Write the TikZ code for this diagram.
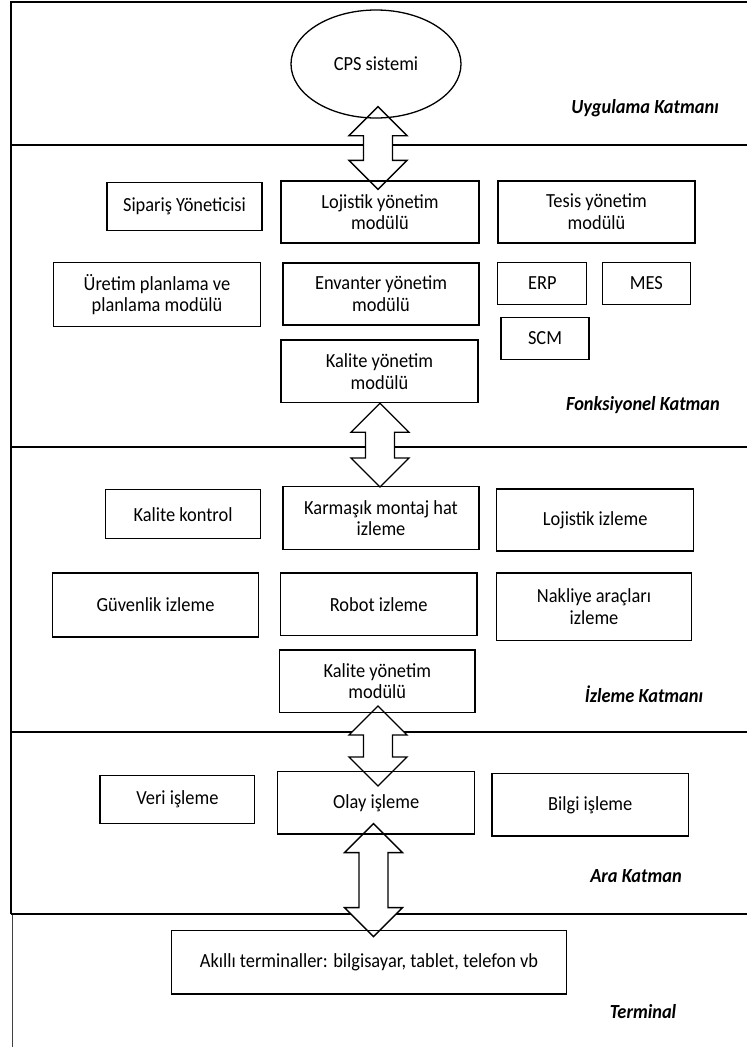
\documentclass[tikz,border=0pt]{standalone}
\usepackage{fontspec}
\setmainfont{Carlito}[FakeStretch=0.92]
\usetikzlibrary{calc,shapes.geometric,backgrounds}

\newcommand{\boxfont}{\fontsize{20}{21.7}\selectfont}
% fat double arrow, tips at #1 (top) and #2 (bottom)
\newcommand{\fatarrow}[2]{%
 \draw[fatarr] let \p1=(#1), \p2=(#2) in
 (\x1,\y1) -- (\x1+29pt,\y1-29pt) -- (\x1+14.5pt,\y1-29pt)
 -- (\x1+14.5pt,\y2+29pt) -- (\x1+29pt,\y2+29pt) -- (\x1,\y2)
 -- (\x1-29pt,\y2+29pt) -- (\x1-14.5pt,\y2+29pt) -- (\x1-14.5pt,\y1-29pt)
 -- (\x1-29pt,\y1-29pt) -- cycle;}

\begin{document}
\begin{tikzpicture}[x=1pt,y=-1pt,font=\boxfont,
 layer/.style={line width=1.7pt},
 box/.style={draw,line width=1.3pt,align=center,inner sep=0pt},
 fatarr/.style={draw,fill=white,line width=1.3pt,line join=miter},
 lbl/.style={font=\boxfont\bfseries\itshape}]
 \useasboundingbox (0,0) rectangle (747,1047);

 % application layer
 \node[draw,ellipse,line width=1.3pt,minimum width=170,minimum height=108,inner sep=0pt]
  (cps) at (376,64) {CPS sistemi};
 \node[lbl] (uyg) at (645,108) {Uygulama Katmanı};

 % functional layer
 \node[box,minimum width=155,minimum height=48] (sip) at (184.5,206.7) {Sipariş Yöneticisi};
 \node[box,minimum width=198,minimum height=62] (loj) at (380,212) {Lojistik yönetim\\modülü};
 \node[box,minimum width=197,minimum height=62] (tesis) at (596.5,212) {Tesis yönetim\\modülü};
 \node[box,minimum width=207,minimum height=64] (uretim) at (157,294.7) {Üretim planlama ve\\planlama modülü};
 \node[box,minimum width=196,minimum height=62] (env) at (381,294) {Envanter yönetim\\modülü};
 \node[box,minimum width=89,minimum height=42] (erp) at (542.3,283.5) {ERP};
 \node[box,minimum width=88,minimum height=42] (mes) at (646.4,283.5) {MES};
 \node[box,minimum width=88,minimum height=42] (scm) at (545,338.3) {SCM};
 \node[box,minimum width=197,minimum height=62.7] (kal1) at (379.5,371.3) {Kalite yönetim\\modülü};
 \node[lbl] (fonk) at (643,405) {Fonksiyonel Katman};

 % monitoring layer
 \node[box,minimum width=155,minimum height=49] (kkon) at (183,514.3) {Kalite kontrol};
 \node[box,minimum width=196,minimum height=62.6] (karm) at (381,518) {Karmaşık montaj hat\\izleme};
 \node[box,minimum width=197,minimum height=62] (lojiz) at (595.2,520) {Lojistik izleme};
 \node[box,minimum width=206,minimum height=64] (guv) at (155.5,605) {Güvenlik izleme};
 \node[box,minimum width=196.5,minimum height=62.7] (robot) at (378.7,604.3) {Robot izleme};
 \node[box,minimum width=194.7,minimum height=67.7] (nakl) at (594,606.8) {Nakliye araçları\\izleme};
 \node[box,minimum width=195.5,minimum height=62.3] (kal2) at (377.3,681.2) {Kalite yönetim\\modülü};
 \node[lbl] (izl) at (644,694) {İzleme Katmanı};

 % middle layer
 \node[box,minimum width=154.8,minimum height=48] (veri) at (177.4,799.7) {Veri işleme};
 \node[box,minimum width=197.2,minimum height=62.3] (olay) at (376.2,802.8) {Olay işleme};
 \node[box,minimum width=196.6,minimum height=62.3] (bilgi) at (590.3,804.8) {Bilgi işleme};
 \node[lbl] (ara) at (636,875.7) {Ara Katman};

 % terminal layer
 \node[box,minimum width=395,minimum height=63.3] (akilli) at (369,962.3) {Akıllı terminaller: bilgisayar, tablet, telefon vb};
 \node[lbl] (term) at (643,1012) {Terminal};

 \begin{scope}[on background layer]
  % layer frame
  \draw[layer] (747,2) -- (11,2) -- (11,914);
  \draw[layer,black!75] (12.5,914) -- (12.5,1047);
  \foreach \ly in {145,447,732,914}
   \draw[layer] (11,\ly) -- (747,\ly);
  % arrows between layers
  \fatarrow{$(cps.south)+(2,-12)$}{$(loj.north)+(0,9)$}
  \fatarrow{$(kal1.south)+(0.5,0)$}{$(karm.north)+(0,1)$}
  \fatarrow{$(kal2.south)+(0.7,-7)$}{$(olay.north)+(0,15)$}
  \fatarrow{$(olay.south)+(-2.7,-11)$}{$(akilli.north)+(0,6.6)$}
 \end{scope}
\end{tikzpicture}
\end{document}
